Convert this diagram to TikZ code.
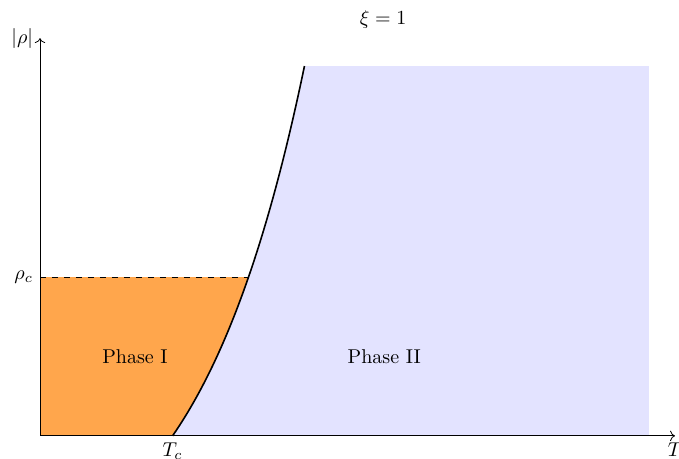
\documentclass[tikz,border=0pt]{standalone}
\usepackage{amsmath,amssymb}
\usepackage{tikz}
\usetikzlibrary{positioning}
\usetikzlibrary{arrows.meta,calc}
\tikzset{
	phaseone/.style = {fill=orange!70},
	phasetwo/.style = {fill=blue!11},
	axis/.style = {->, thin},
	border/.style = {thick, black},
}
% T as a function of rho along the phase border
\newcommand{\bordT}[1]{2.33+1.935*ln(1+(#1)/2.81)}

\begin{document}
\begin{tikzpicture}
	\useasboundingbox (-0.703,-0.404) rectangle (11.23,7.66);
	\coordinate (O) at (0,0);
	\coordinate (Tc) at (2.33,0);
	\coordinate (rhoc) at (0,2.79);
	\coordinate (meet) at ({\bordT{2.79}},2.79);
	\fill[phasetwo] (Tc) -- plot[domain=0:6.5,samples=80,variable=\t] ({\bordT{\t}},\t)
		-- (10.70,6.50) -- (10.70,0) -- cycle;
	\fill[phaseone] (O) -- (Tc) -- plot[domain=0:2.79,samples=40,variable=\t] ({\bordT{\t}},\t)
		-- (rhoc) -- cycle;
	\draw[dashed] (rhoc) -- (meet);
	\draw[border] plot[domain=0:6.5,samples=80,variable=\t] ({\bordT{\t}},\t);
	\draw[axis] (O) -- (11.16,0) node[below] (Tlab) {$T$};
	\draw[axis] (O) -- (0,6.99) node[left] (rholab) {$|\rho|$};
	\node[left] (rhoclab) at (rhoc) {$\rho_c$};
	\node[below] (Tclab) at (Tc) {$T_c$};
	\node (title) at (6.03,7.31) {$\xi = 1$};
	\node (one) at (1.67,1.39) {Phase I};
	\node (two) at (6.05,1.39) {Phase II};
\end{tikzpicture}
\end{document}
